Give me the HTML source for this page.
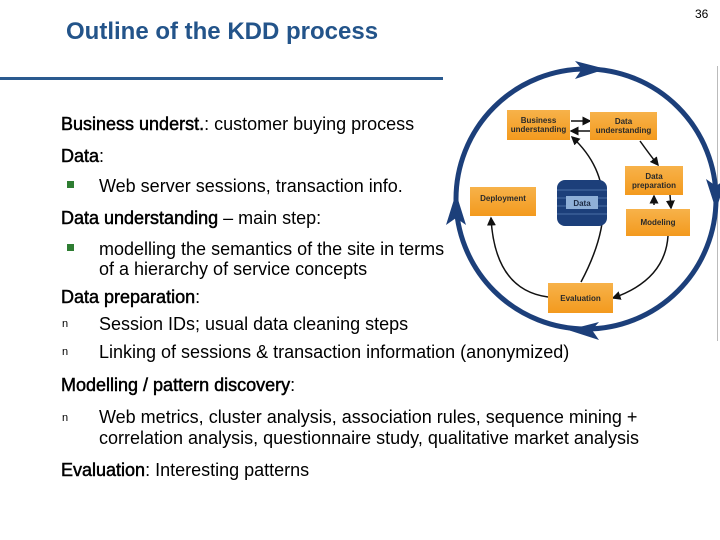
<!DOCTYPE html>
<html><head><style>
body{margin:0;width:720px;height:540px;background:#fff;position:relative;font-family:"Liberation Sans",sans-serif;overflow:hidden}
.t{position:absolute;font-size:18px;color:#000;white-space:nowrap}
.t b{font-weight:normal;-webkit-text-stroke:0.5px #000}
.sq{position:absolute;width:7px;height:7px;background:#2e7d32}
.b{position:absolute;background:linear-gradient(#f7b24a,#f39a1e);font-weight:bold;font-size:8px;color:#2a2a2a;text-align:center;display:flex;align-items:center;justify-content:center;line-height:9px}
</style></head><body>
<div style="position:absolute;left:66px;top:18px;font-size:24px;font-weight:bold;color:#23548a">Outline of the KDD process</div>
<div style="position:absolute;left:695px;top:7px;font-size:12px">36</div>
<div style="position:absolute;left:0;top:77px;width:443px;height:3px;background:#2a5a8f"></div>
<div style="position:absolute;left:717px;top:66px;width:1px;height:275px;background:#bbb"></div>
<div class="t" style="left:61px;top:114px"><b>Business underst.</b>: customer buying process</div>
<div class="t" style="left:61px;top:146px"><b>Data</b>:</div>
<div class="sq" style="left:67px;top:181px"></div>
<div class="t" style="left:99px;top:176px">Web server sessions, transaction info.</div>
<div class="t" style="left:61px;top:208px"><b>Data understanding</b> – main step:</div>
<div class="sq" style="left:67px;top:244px"></div>
<div class="t" style="left:99px;top:239px;line-height:20px">modelling the semantics of the site in terms<br>of a hierarchy of service concepts</div>
<div class="t" style="left:61px;top:287px"><b>Data preparation</b>:</div>
<div class="t" style="left:62px;top:318px;font-size:11px">n</div>
<div class="t" style="left:99px;top:314px">Session IDs; usual data cleaning steps</div>
<div class="t" style="left:62px;top:346px;font-size:11px">n</div>
<div class="t" style="left:99px;top:342px">Linking of sessions &amp; transaction information (anonymized)</div>
<div class="t" style="left:61px;top:375px"><b>Modelling / pattern discovery</b>:</div>
<div class="t" style="left:62px;top:412px;font-size:11px">n</div>
<div class="t" style="left:99px;top:407px;line-height:21px">Web metrics, cluster analysis, association rules, sequence mining +<br>correlation analysis, questionnaire study, qualitative market analysis</div>
<div class="t" style="left:61px;top:460px"><b>Evaluation</b>: Interesting patterns</div>

<svg style="position:absolute;left:0;top:0" width="720" height="540">
<defs><marker id="a" markerWidth="6" markerHeight="6" refX="5" refY="3" orient="auto"><path d="M0,0L6,3L0,6z" fill="#111"/></marker></defs>
<circle cx="586" cy="199" r="130" fill="none" stroke="#1c3f7a" stroke-width="5"/>
<path d="M575,61 L606,69 L575,79 L582,69z" fill="#1c3f7a"/>
<path d="M706,179 L716,210 L726,179 L716,186z" fill="#1c3f7a"/>
<path d="M599,322 L568,330 L599,340 L592,330z" fill="#1c3f7a"/>
<path d="M446,225 L456,193 L466,225 L456,218z" fill="#1c3f7a"/>
<g fill="none" stroke="#111" stroke-width="1.5" marker-end="url(#a)">
<path d="M571,121 L590,121"/><path d="M590,131 L571,131"/>
<path d="M640,141 Q650,155 658,165"/>
<path d="M654,205 L654,196"/><path d="M670,195 L671,208"/>
<path d="M668,236 Q665,280 613,298"/>
<path d="M581,282 Q630,190 572,137"/>
<path d="M548,297 Q495,290 491,218"/>
</g>
<rect x="557" y="180" width="50" height="46" rx="8" fill="#1c3f7a"/>
<g stroke="#4a6fa5" stroke-width="1"><line x1="557" y1="190" x2="607" y2="190"/><line x1="557" y1="198" x2="607" y2="198"/><line x1="557" y1="206" x2="607" y2="206"/><line x1="557" y1="214" x2="607" y2="214"/></g>
<rect x="566" y="196" width="32" height="13" fill="#8fb0d8"/>
<text x="582" y="206" font-family="Liberation Sans" font-size="8" font-weight="bold" text-anchor="middle" fill="#1c2a44">Data</text>
</svg>
<div class="b" style="left:507px;top:110px;width:63px;height:30px">Business<br>understanding</div>
<div class="b" style="left:590px;top:112px;width:67px;height:28px">Data<br>understanding</div>
<div class="b" style="left:625px;top:166px;width:58px;height:29px">Data<br>preparation</div>
<div class="b" style="left:626px;top:209px;width:64px;height:27px">Modeling</div>
<div class="b" style="left:470px;top:187px;width:66px;height:29px;align-items:flex-start;padding-top:7px;box-sizing:border-box">Deployment</div>
<div class="b" style="left:548px;top:283px;width:65px;height:30px">Evaluation</div>
</body></html>
